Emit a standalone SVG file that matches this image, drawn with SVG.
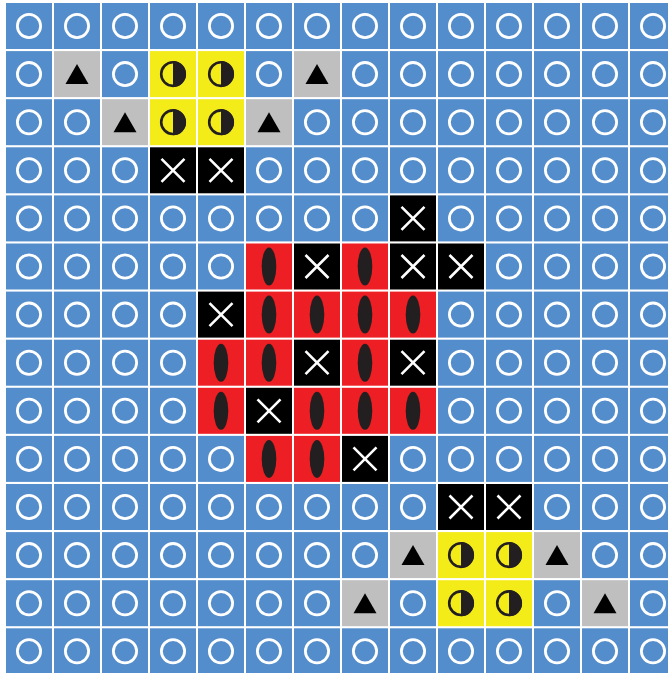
<svg xmlns="http://www.w3.org/2000/svg" xmlns:xlink="http://www.w3.org/1999/xlink" width="668" height="673" viewBox="0 0 668 673">
<style>
.b{fill:#548DCC}.g{fill:#BFBFBF}.y{fill:#F3EC19}.k{fill:#000}.r{fill:#ED1F24}
.ring{fill:none;stroke:#fff;stroke-width:2.8}
.x{stroke:#fff;stroke-width:2.6;stroke-linecap:butt}
.d{fill:#231F20}
</style>
<defs>
<g id="O"><rect class="b" x="-23" y="-23" width="46" height="46"/><circle class="ring" r="11.6"/></g>
<g id="T"><rect class="g" x="-23" y="-23" width="46" height="46"/><polygon fill="#000" points="0,-10 11.5,10 -11.5,10"/></g>
<g id="H"><rect class="y" x="-23" y="-23" width="46" height="46"/><circle r="11.8" fill="none" stroke="#231F20" stroke-width="2.6"/><path class="d" d="M0,-13 A13,13 0 0 1 0,13 Z"/></g>
<g id="X"><rect class="k" x="-23" y="-23" width="46" height="46"/><path class="x" d="M-11.5,-11.5L11.5,11.5M11.5,-11.5L-11.5,11.5"/></g>
<g id="E"><rect class="r" x="-23" y="-23" width="46" height="46"/><ellipse class="d" rx="7.3" ry="19"/></g>
</defs>
<rect width="668" height="673" fill="#fff"/>
<g id="row0">
<use id="r0c0" href="#O" x="29" y="26"/><use id="r0c1" href="#O" x="77" y="26"/><use id="r0c2" href="#O" x="125" y="26"/><use id="r0c3" href="#O" x="173" y="26"/><use id="r0c4" href="#O" x="221" y="26"/><use id="r0c5" href="#O" x="269" y="26"/><use id="r0c6" href="#O" x="317" y="26"/><use id="r0c7" href="#O" x="365" y="26"/><use id="r0c8" href="#O" x="413" y="26"/><use id="r0c9" href="#O" x="461" y="26"/><use id="r0c10" href="#O" x="509" y="26"/><use id="r0c11" href="#O" x="557" y="26"/><use id="r0c12" href="#O" x="605" y="26"/><use id="r0c13" href="#O" x="653" y="26"/>
</g>
<g id="row1">
<use id="r1c0" href="#O" x="29" y="74.1"/><use id="r1c1" href="#T" x="77" y="74.1"/><use id="r1c2" href="#O" x="125" y="74.1"/><use id="r1c3" href="#H" x="173" y="74.1"/><use id="r1c4" href="#H" x="221" y="74.1"/><use id="r1c5" href="#O" x="269" y="74.1"/><use id="r1c6" href="#T" x="317" y="74.1"/><use id="r1c7" href="#O" x="365" y="74.1"/><use id="r1c8" href="#O" x="413" y="74.1"/><use id="r1c9" href="#O" x="461" y="74.1"/><use id="r1c10" href="#O" x="509" y="74.1"/><use id="r1c11" href="#O" x="557" y="74.1"/><use id="r1c12" href="#O" x="605" y="74.1"/><use id="r1c13" href="#O" x="653" y="74.1"/>
</g>
<g id="row2">
<use id="r2c0" href="#O" x="29" y="122.2"/><use id="r2c1" href="#O" x="77" y="122.2"/><use id="r2c2" href="#T" x="125" y="122.2"/><use id="r2c3" href="#H" x="173" y="122.2"/><use id="r2c4" href="#H" x="221" y="122.2"/><use id="r2c5" href="#T" x="269" y="122.2"/><use id="r2c6" href="#O" x="317" y="122.2"/><use id="r2c7" href="#O" x="365" y="122.2"/><use id="r2c8" href="#O" x="413" y="122.2"/><use id="r2c9" href="#O" x="461" y="122.2"/><use id="r2c10" href="#O" x="509" y="122.2"/><use id="r2c11" href="#O" x="557" y="122.2"/><use id="r2c12" href="#O" x="605" y="122.2"/><use id="r2c13" href="#O" x="653" y="122.2"/>
</g>
<g id="row3">
<use id="r3c0" href="#O" x="29" y="170.3"/><use id="r3c1" href="#O" x="77" y="170.3"/><use id="r3c2" href="#O" x="125" y="170.3"/><use id="r3c3" href="#X" x="173" y="170.3"/><use id="r3c4" href="#X" x="221" y="170.3"/><use id="r3c5" href="#O" x="269" y="170.3"/><use id="r3c6" href="#O" x="317" y="170.3"/><use id="r3c7" href="#O" x="365" y="170.3"/><use id="r3c8" href="#O" x="413" y="170.3"/><use id="r3c9" href="#O" x="461" y="170.3"/><use id="r3c10" href="#O" x="509" y="170.3"/><use id="r3c11" href="#O" x="557" y="170.3"/><use id="r3c12" href="#O" x="605" y="170.3"/><use id="r3c13" href="#O" x="653" y="170.3"/>
</g>
<g id="row4">
<use id="r4c0" href="#O" x="29" y="218.4"/><use id="r4c1" href="#O" x="77" y="218.4"/><use id="r4c2" href="#O" x="125" y="218.4"/><use id="r4c3" href="#O" x="173" y="218.4"/><use id="r4c4" href="#O" x="221" y="218.4"/><use id="r4c5" href="#O" x="269" y="218.4"/><use id="r4c6" href="#O" x="317" y="218.4"/><use id="r4c7" href="#O" x="365" y="218.4"/><use id="r4c8" href="#X" x="413" y="218.4"/><use id="r4c9" href="#O" x="461" y="218.4"/><use id="r4c10" href="#O" x="509" y="218.4"/><use id="r4c11" href="#O" x="557" y="218.4"/><use id="r4c12" href="#O" x="605" y="218.4"/><use id="r4c13" href="#O" x="653" y="218.4"/>
</g>
<g id="row5">
<use id="r5c0" href="#O" x="29" y="266.5"/><use id="r5c1" href="#O" x="77" y="266.5"/><use id="r5c2" href="#O" x="125" y="266.5"/><use id="r5c3" href="#O" x="173" y="266.5"/><use id="r5c4" href="#O" x="221" y="266.5"/><use id="r5c5" href="#E" x="269" y="266.5"/><use id="r5c6" href="#X" x="317" y="266.5"/><use id="r5c7" href="#E" x="365" y="266.5"/><use id="r5c8" href="#X" x="413" y="266.5"/><use id="r5c9" href="#X" x="461" y="266.5"/><use id="r5c10" href="#O" x="509" y="266.5"/><use id="r5c11" href="#O" x="557" y="266.5"/><use id="r5c12" href="#O" x="605" y="266.5"/><use id="r5c13" href="#O" x="653" y="266.5"/>
</g>
<g id="row6">
<use id="r6c0" href="#O" x="29" y="314.6"/><use id="r6c1" href="#O" x="77" y="314.6"/><use id="r6c2" href="#O" x="125" y="314.6"/><use id="r6c3" href="#O" x="173" y="314.6"/><use id="r6c4" href="#X" x="221" y="314.6"/><use id="r6c5" href="#E" x="269" y="314.6"/><use id="r6c6" href="#E" x="317" y="314.6"/><use id="r6c7" href="#E" x="365" y="314.6"/><use id="r6c8" href="#E" x="413" y="314.6"/><use id="r6c9" href="#O" x="461" y="314.6"/><use id="r6c10" href="#O" x="509" y="314.6"/><use id="r6c11" href="#O" x="557" y="314.6"/><use id="r6c12" href="#O" x="605" y="314.6"/><use id="r6c13" href="#O" x="653" y="314.6"/>
</g>
<g id="row7">
<use id="r7c0" href="#O" x="29" y="362.7"/><use id="r7c1" href="#O" x="77" y="362.7"/><use id="r7c2" href="#O" x="125" y="362.7"/><use id="r7c3" href="#O" x="173" y="362.7"/><use id="r7c4" href="#E" x="221" y="362.7"/><use id="r7c5" href="#E" x="269" y="362.7"/><use id="r7c6" href="#X" x="317" y="362.7"/><use id="r7c7" href="#E" x="365" y="362.7"/><use id="r7c8" href="#X" x="413" y="362.7"/><use id="r7c9" href="#O" x="461" y="362.7"/><use id="r7c10" href="#O" x="509" y="362.7"/><use id="r7c11" href="#O" x="557" y="362.7"/><use id="r7c12" href="#O" x="605" y="362.7"/><use id="r7c13" href="#O" x="653" y="362.7"/>
</g>
<g id="row8">
<use id="r8c0" href="#O" x="29" y="410.8"/><use id="r8c1" href="#O" x="77" y="410.8"/><use id="r8c2" href="#O" x="125" y="410.8"/><use id="r8c3" href="#O" x="173" y="410.8"/><use id="r8c4" href="#E" x="221" y="410.8"/><use id="r8c5" href="#X" x="269" y="410.8"/><use id="r8c6" href="#E" x="317" y="410.8"/><use id="r8c7" href="#E" x="365" y="410.8"/><use id="r8c8" href="#E" x="413" y="410.8"/><use id="r8c9" href="#O" x="461" y="410.8"/><use id="r8c10" href="#O" x="509" y="410.8"/><use id="r8c11" href="#O" x="557" y="410.8"/><use id="r8c12" href="#O" x="605" y="410.8"/><use id="r8c13" href="#O" x="653" y="410.8"/>
</g>
<g id="row9">
<use id="r9c0" href="#O" x="29" y="458.9"/><use id="r9c1" href="#O" x="77" y="458.9"/><use id="r9c2" href="#O" x="125" y="458.9"/><use id="r9c3" href="#O" x="173" y="458.9"/><use id="r9c4" href="#O" x="221" y="458.9"/><use id="r9c5" href="#E" x="269" y="458.9"/><use id="r9c6" href="#E" x="317" y="458.9"/><use id="r9c7" href="#X" x="365" y="458.9"/><use id="r9c8" href="#O" x="413" y="458.9"/><use id="r9c9" href="#O" x="461" y="458.9"/><use id="r9c10" href="#O" x="509" y="458.9"/><use id="r9c11" href="#O" x="557" y="458.9"/><use id="r9c12" href="#O" x="605" y="458.9"/><use id="r9c13" href="#O" x="653" y="458.9"/>
</g>
<g id="row10">
<use id="r10c0" href="#O" x="29" y="507"/><use id="r10c1" href="#O" x="77" y="507"/><use id="r10c2" href="#O" x="125" y="507"/><use id="r10c3" href="#O" x="173" y="507"/><use id="r10c4" href="#O" x="221" y="507"/><use id="r10c5" href="#O" x="269" y="507"/><use id="r10c6" href="#O" x="317" y="507"/><use id="r10c7" href="#O" x="365" y="507"/><use id="r10c8" href="#O" x="413" y="507"/><use id="r10c9" href="#X" x="461" y="507"/><use id="r10c10" href="#X" x="509" y="507"/><use id="r10c11" href="#O" x="557" y="507"/><use id="r10c12" href="#O" x="605" y="507"/><use id="r10c13" href="#O" x="653" y="507"/>
</g>
<g id="row11">
<use id="r11c0" href="#O" x="29" y="555.1"/><use id="r11c1" href="#O" x="77" y="555.1"/><use id="r11c2" href="#O" x="125" y="555.1"/><use id="r11c3" href="#O" x="173" y="555.1"/><use id="r11c4" href="#O" x="221" y="555.1"/><use id="r11c5" href="#O" x="269" y="555.1"/><use id="r11c6" href="#O" x="317" y="555.1"/><use id="r11c7" href="#O" x="365" y="555.1"/><use id="r11c8" href="#T" x="413" y="555.1"/><use id="r11c9" href="#H" x="461" y="555.1"/><use id="r11c10" href="#H" x="509" y="555.1"/><use id="r11c11" href="#T" x="557" y="555.1"/><use id="r11c12" href="#O" x="605" y="555.1"/><use id="r11c13" href="#O" x="653" y="555.1"/>
</g>
<g id="row12">
<use id="r12c0" href="#O" x="29" y="603.2"/><use id="r12c1" href="#O" x="77" y="603.2"/><use id="r12c2" href="#O" x="125" y="603.2"/><use id="r12c3" href="#O" x="173" y="603.2"/><use id="r12c4" href="#O" x="221" y="603.2"/><use id="r12c5" href="#O" x="269" y="603.2"/><use id="r12c6" href="#O" x="317" y="603.2"/><use id="r12c7" href="#T" x="365" y="603.2"/><use id="r12c8" href="#O" x="413" y="603.2"/><use id="r12c9" href="#H" x="461" y="603.2"/><use id="r12c10" href="#H" x="509" y="603.2"/><use id="r12c11" href="#O" x="557" y="603.2"/><use id="r12c12" href="#T" x="605" y="603.2"/><use id="r12c13" href="#O" x="653" y="603.2"/>
</g>
<g id="row13">
<use id="r13c0" href="#O" x="29" y="651.3"/><use id="r13c1" href="#O" x="77" y="651.3"/><use id="r13c2" href="#O" x="125" y="651.3"/><use id="r13c3" href="#O" x="173" y="651.3"/><use id="r13c4" href="#O" x="221" y="651.3"/><use id="r13c5" href="#O" x="269" y="651.3"/><use id="r13c6" href="#O" x="317" y="651.3"/><use id="r13c7" href="#O" x="365" y="651.3"/><use id="r13c8" href="#O" x="413" y="651.3"/><use id="r13c9" href="#O" x="461" y="651.3"/><use id="r13c10" href="#O" x="509" y="651.3"/><use id="r13c11" href="#O" x="557" y="651.3"/><use id="r13c12" href="#O" x="605" y="651.3"/><use id="r13c13" href="#O" x="653" y="651.3"/>
</g>
</svg>
